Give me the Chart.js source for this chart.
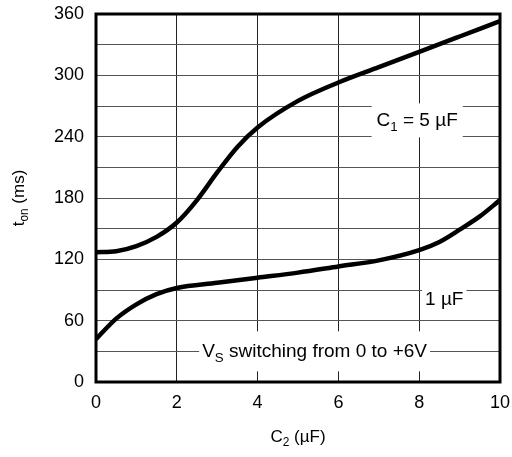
<!DOCTYPE html>
<html>
<head>
    <title>t_on vs C2</title>
    <style>body{margin:0;background:#fff}</style>
</head>
<body>
<canvas id="chart" width="512" height="457"></canvas>

<script src="https://cdn.jsdelivr.net/npm/chart.js"></script>
<script>
    // C1 = 5 uF curve
    const c2Upper = [0, 0.5, 1, 1.5, 2, 2.5, 3, 3.5, 4, 5, 6, 7, 8, 9, 10];
    const tonUpper = [127, 128, 133, 142, 156, 178, 205, 230, 249, 275, 293, 308, 323, 338, 353];
    // C1 = 1 uF curve
    const c2Lower = [0, 0.5, 1, 1.5, 2, 3, 4, 5, 6, 7, 8, 8.5, 9, 9.5, 10];
    const tonLower = [42, 62, 76, 86, 92, 97, 102, 107, 113, 119, 129, 137, 149, 162, 178];

    const xTicks = [0, 2, 4, 6, 8, 10];
    const yTicks = [0, 60, 120, 180, 240, 300, 360];

    // text notes inside the plot, [text, isSubscript]
    const notes = [
        {x: 7.95, y: 256, padX: 5, padY: 17, parts: [['C', false], ['1', true], [' = 5 µF', false]]},
        {x: 8.62, y: 80, padX: 3, padY: 11, parts: [['1 µF', false]]},
        {x: 5.41, y: 30, padX: 3, padY: 20, parts: [['V', false], ['S', true], [' switching from 0 to +6V', false]]},
    ];

    const FONT = '"Liberation Sans", Arial, Helvetica, sans-serif';
    const SIZE = 18;
    const NOTE_SIZE = 19;
    const TITLE_SIZE = 17;

    function toPoints(xs, ys) {
        return xs.map((x, i) => ({x: x, y: ys[i]}));
    }

    function partsWidth(ctx, parts, size) {
        let w = 0;
        parts.forEach(p => {
            ctx.font = (p[1] ? size * 0.7 : size) + 'px ' + FONT;
            w += ctx.measureText(p[0]).width;
        });
        return w;
    }

    function drawParts(ctx, parts, x, y, size) {
        // x = left, y = vertical middle
        ctx.textBaseline = 'middle';
        ctx.textAlign = 'left';
        parts.forEach(p => {
            ctx.font = (p[1] ? size * 0.7 : size) + 'px ' + FONT;
            ctx.fillText(p[0], x, p[1] ? y + size * 0.35 : y);
            x += ctx.measureText(p[0]).width;
        });
    }

    const extras = {
        id: 'extras',
        beforeDatasetsDraw(chart) {
            const ctx = chart.ctx;
            const xs = chart.scales.x, ys = chart.scales.y;
            ctx.save();
            notes.forEach(n => {
                const w = partsWidth(ctx, n.parts, NOTE_SIZE);
                const cx = xs.getPixelForValue(n.x);
                const cy = ys.getPixelForValue(n.y);
                ctx.fillStyle = '#fff';
                ctx.fillRect(cx - w / 2 - n.padX, cy - n.padY, w + 2 * n.padX, 2 * n.padY);
                ctx.fillStyle = '#000';
                drawParts(ctx, n.parts, cx - w / 2, cy, NOTE_SIZE);
            });
            ctx.restore();
        },
        afterDatasetsDraw(chart) {
            const ctx = chart.ctx;
            const a = chart.chartArea;
            ctx.save();
            ctx.strokeStyle = '#000';
            ctx.lineWidth = 3;
            ctx.strokeRect(a.left, a.top, a.right - a.left, a.bottom - a.top);

            ctx.fillStyle = '#000';
            // x title
            const xParts = [['C', false], ['2', true], [' (µF)', false]];
            const xw = partsWidth(ctx, xParts, TITLE_SIZE);
            drawParts(ctx, xParts, (a.left + a.right) / 2 - xw / 2, 437, TITLE_SIZE);
            // y title
            const yParts = [['t', false], ['on', true], [' (ms)', false]];
            const yw = partsWidth(ctx, yParts, TITLE_SIZE);
            ctx.translate(19, (a.top + a.bottom) / 2);
            ctx.rotate(-Math.PI / 2);
            drawParts(ctx, yParts, -yw / 2, 0, TITLE_SIZE);
            ctx.restore();
        }
    };

    new Chart(document.getElementById('chart'), {
        type: 'line',
        data: {
            datasets: [
                {
                    label: 'C1 = 5 µF',
                    data: toPoints(c2Upper, tonUpper),
                    borderColor: '#000',
                    borderWidth: 4.5,
                    pointRadius: 0,
                    cubicInterpolationMode: 'monotone',
                },
                {
                    label: '1 µF',
                    data: toPoints(c2Lower, tonLower),
                    borderColor: '#000',
                    borderWidth: 4.5,
                    pointRadius: 0,
                    cubicInterpolationMode: 'monotone',
                }
            ]
        },
        options: {
            responsive: false,
            animation: false,
            devicePixelRatio: 1,
            layout: {padding: {top: 14, right: 12, left: 0, bottom: 0}},
            plugins: {legend: {display: false}, tooltip: {enabled: false}},
            scales: {
                x: {
                    type: 'linear',
                    min: 0,
                    max: 10,
                    afterBuildTicks: s => { s.ticks = xTicks.map(v => ({value: v})); },
                    afterFit: s => { s.height = 75; s.paddingLeft = 0; s.paddingRight = 0; },
                    grid: {color: '#222', lineWidth: 1, drawTicks: false},
                    border: {display: false},
                    ticks: {color: '#000', padding: 10, font: {family: FONT, size: SIZE}},
                },
                y: {
                    min: 0,
                    max: 360,
                    ticks: {
                        stepSize: 30,
                        color: '#000',
                        padding: 12,
                        font: {family: FONT, size: SIZE},
                        callback: v => yTicks.includes(v) ? v : '',
                    },
                    afterFit: s => { s.width = 96; s.paddingTop = 0; s.paddingBottom = 0; },
                    grid: {color: '#555', lineWidth: 1, drawTicks: false},
                    border: {display: false},
                }
            }
        },
        plugins: [extras]
    });
</script>
</body>
</html>
